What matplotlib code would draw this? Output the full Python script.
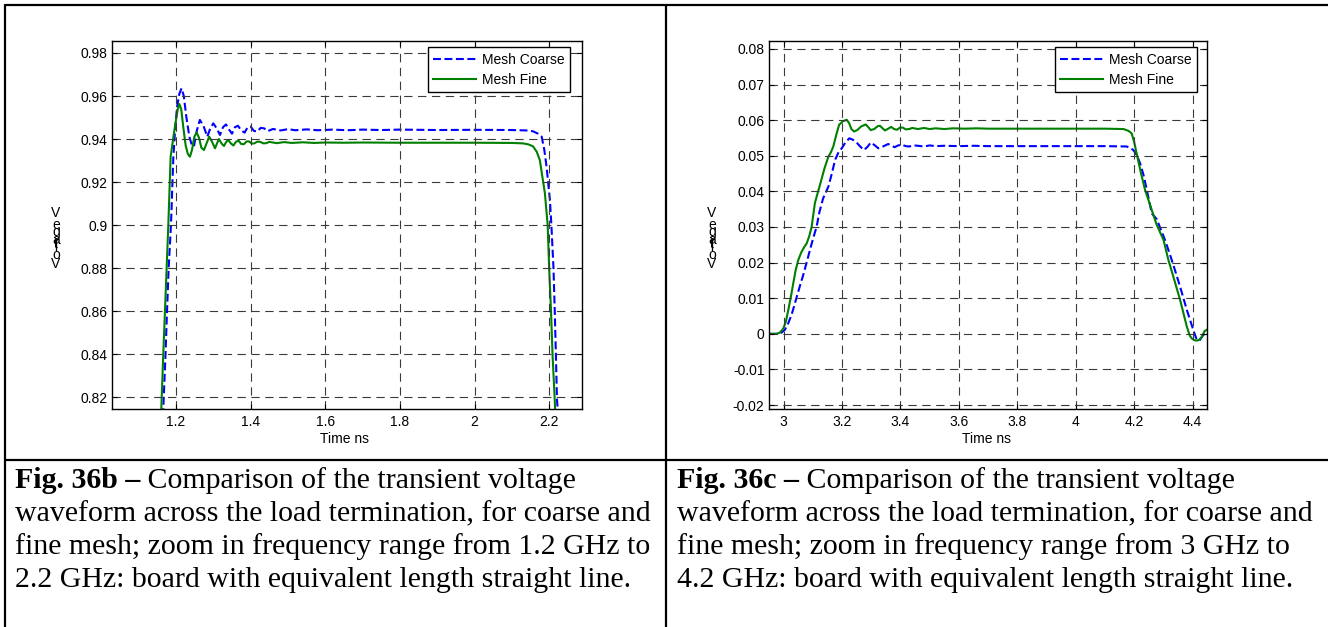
import matplotlib
matplotlib.use("Agg")
import matplotlib.pyplot as plt
from matplotlib.lines import Line2D

# ---------------- data ----------------
# Fig. 36b : 1.2 GHz .. 2.2 GHz window
b_coarse_t = [1.160, 1.166, 1.172, 1.176, 1.1804, 1.1866, 1.193, 1.198, 1.203, 1.209, 1.215,
              1.221, 1.228, 1.236, 1.242, 1.248, 1.256, 1.264, 1.274, 1.284, 1.292, 1.300,
              1.309, 1.318, 1.326, 1.334, 1.342, 1.350, 1.358, 1.366, 1.375, 1.384, 1.392,
              1.400, 1.409, 1.418, 1.427, 1.436, 1.446, 1.460, 1.480, 1.500, 1.520, 1.550,
              1.580, 1.620, 1.660, 1.700, 1.750, 1.800, 1.900, 2.000, 2.100, 2.140, 2.157,
              2.170, 2.180, 2.187, 2.193, 2.202, 2.206, 2.2116, 2.215, 2.218, 2.221, 2.223, 2.226]
b_coarse_v = [0.790, 0.8146, 0.840, 0.860, 0.880, 0.900, 0.9317, 0.945, 0.955, 0.961, 0.9636,
              0.960, 0.950, 0.941, 0.9375, 0.9365, 0.944, 0.9489, 0.946, 0.9411, 0.945, 0.9473,
              0.945, 0.9419, 0.9455, 0.9468, 0.9445, 0.9425, 0.9455, 0.9462, 0.9440, 0.9430, 0.9455,
              0.9458, 0.9438, 0.9435, 0.9452, 0.9450, 0.9437, 0.9447, 0.9440, 0.9446, 0.9441, 0.9445,
              0.9441, 0.9444, 0.9441, 0.9444, 0.9442, 0.9444, 0.9442, 0.9443, 0.9442, 0.9440, 0.9436,
              0.9425, 0.9411, 0.935, 0.9272, 0.9117, 0.900, 0.880, 0.860, 0.840, 0.8188, 0.8146, 0.790]

b_fine_t = [1.155, 1.1607, 1.166, 1.1705, 1.175, 1.1795, 1.1857, 1.1946, 1.201, 1.205, 1.209,
            1.214, 1.220, 1.226, 1.232, 1.2375, 1.243, 1.249, 1.2554, 1.262, 1.268, 1.275,
            1.282, 1.289, 1.296, 1.3045, 1.310, 1.315, 1.322, 1.3286, 1.334, 1.340, 1.347,
            1.354, 1.361, 1.368, 1.375, 1.382, 1.389, 1.396, 1.403, 1.410, 1.418, 1.426,
            1.434, 1.442, 1.450, 1.470, 1.490, 1.510, 1.540, 1.570, 1.600, 1.650, 1.700,
            1.800, 1.900, 2.000, 2.100, 2.130, 2.145, 2.157, 2.167, 2.175, 2.1886, 2.196,
            2.200, 2.205, 2.209, 2.215, 2.216, 2.219]
b_fine_v = [0.790, 0.8146, 0.840, 0.860, 0.880, 0.900, 0.9317, 0.9427, 0.950, 0.954, 0.9563,
            0.954, 0.945, 0.937, 0.933, 0.9318, 0.935, 0.9410, 0.9431, 0.9405, 0.936, 0.9349,
            0.938, 0.9411, 0.939, 0.9357, 0.938, 0.9400, 0.938, 0.9368, 0.9385, 0.9396, 0.938,
            0.9370, 0.9388, 0.9392, 0.9377, 0.9376, 0.9389, 0.9389, 0.9379, 0.9380, 0.9388, 0.9387,
            0.9380, 0.9381, 0.9387, 0.9381, 0.9386, 0.9382, 0.9385, 0.9382, 0.9384, 0.9383, 0.9384,
            0.9383, 0.9383, 0.9383, 0.9382, 0.9380, 0.9375, 0.9366, 0.9340, 0.9302, 0.9148, 0.900,
            0.880, 0.860, 0.840, 0.8188, 0.8146, 0.790]

b_xticks = [1.2, 1.4, 1.6, 1.8, 2.0, 2.2]
b_xticklabels = ["1.2", "1.4", "1.6", "1.8", "2", "2.2"]
b_yticks = [0.82, 0.84, 0.86, 0.88, 0.90, 0.92, 0.94, 0.96, 0.98]
b_yticklabels = ["0.82", "0.84", "0.86", "0.88", "0.9", "0.92", "0.94", "0.96", "0.98"]

# Fig. 36c : 3 GHz .. 4.2 GHz window
c_coarse_t = [2.951, 2.980, 2.992, 3.004, 3.015, 3.027, 3.036, 3.045, 3.056, 3.067, 3.078,
              3.090, 3.101, 3.113, 3.122, 3.135, 3.153, 3.165, 3.176, 3.188, 3.199, 3.212,
              3.225, 3.237, 3.250, 3.262, 3.275, 3.287, 3.298, 3.311, 3.324, 3.340, 3.358,
              3.370, 3.380, 3.392, 3.405, 3.418, 3.430, 3.445, 3.460, 3.480, 3.500, 3.520,
              3.550, 3.600, 3.650, 3.700, 3.800, 3.900, 4.000, 4.100, 4.174, 4.186, 4.197,
              4.209, 4.220, 4.232, 4.243, 4.260, 4.277, 4.290, 4.305, 4.320, 4.334, 4.357,
              4.380, 4.402, 4.414, 4.425, 4.436, 4.450]
c_coarse_v = [0.0, 0.0, 0.0003, 0.0011, 0.0028, 0.0053, 0.0078, 0.0104, 0.0135, 0.0165, 0.0198,
              0.0235, 0.0268, 0.0301, 0.0340, 0.0380, 0.0413, 0.0450, 0.0488, 0.0510, 0.0521, 0.0538,
              0.0549, 0.0545, 0.0537, 0.0526, 0.0516, 0.0525, 0.0537, 0.0530, 0.0521, 0.0526, 0.0533,
              0.0528, 0.0524, 0.0529, 0.0531, 0.0527, 0.0526, 0.0529, 0.0528, 0.0526, 0.0529, 0.0527,
              0.0528, 0.0527, 0.0528, 0.0527, 0.0527, 0.0527, 0.0527, 0.0527, 0.0526, 0.0522, 0.0516,
              0.0501, 0.0479, 0.0445, 0.0404, 0.0338, 0.0322, 0.0295, 0.0264, 0.0228, 0.0193, 0.0132,
              0.0067, 0.0011, -0.0017, -0.0017, -0.0003, 0.0003]

c_fine_t = [2.951, 2.976, 2.988, 2.999, 3.008, 3.016, 3.025, 3.033, 3.041, 3.050, 3.060,
            3.070, 3.079, 3.088, 3.096, 3.107, 3.113, 3.125, 3.140, 3.153, 3.162, 3.170,
            3.180, 3.190, 3.203, 3.216, 3.224, 3.232, 3.241, 3.252, 3.265, 3.281, 3.290,
            3.298, 3.310, 3.322, 3.330, 3.340, 3.347, 3.358, 3.368, 3.378, 3.388, 3.398,
            3.408, 3.418, 3.430, 3.440, 3.460, 3.480, 3.500, 3.520, 3.550, 3.580, 3.620,
            3.660, 3.700, 3.800, 3.900, 4.000, 4.100, 4.163, 4.180, 4.191, 4.200, 4.208,
            4.222, 4.237, 4.255, 4.271, 4.277, 4.300, 4.317, 4.334, 4.357, 4.380, 4.390,
            4.397, 4.406, 4.416, 4.423, 4.430, 4.441, 4.450]
c_fine_v = [0.0, 0.0, 0.0004, 0.0015, 0.0035, 0.0067, 0.0105, 0.0142, 0.0178, 0.0207, 0.0228,
            0.0243, 0.0254, 0.0275, 0.0301, 0.0367, 0.0385, 0.0420, 0.0465, 0.0497, 0.0510, 0.0526,
            0.0558, 0.0587, 0.0597, 0.0601, 0.0592, 0.0575, 0.0568, 0.0572, 0.0582, 0.0588, 0.0580,
            0.0572, 0.0575, 0.0583, 0.0584, 0.0576, 0.0571, 0.0576, 0.0581, 0.0575, 0.0573, 0.0579,
            0.0579, 0.0574, 0.0575, 0.0578, 0.0575, 0.0578, 0.0575, 0.0577, 0.0575, 0.0577, 0.0576,
            0.0577, 0.0576, 0.0576, 0.0576, 0.0576, 0.0576, 0.0575, 0.0570, 0.0563, 0.0538, 0.0507,
            0.0455, 0.0404, 0.0360, 0.0320, 0.0306, 0.0264, 0.0207, 0.0160, 0.0095, 0.0020, -0.0005,
            -0.0013, -0.0018, -0.0019, -0.0016, -0.0010, 0.0008, 0.0012]

c_xticks = [3.0, 3.2, 3.4, 3.6, 3.8, 4.0, 4.2, 4.4]
c_xticklabels = ["3", "3.2", "3.4", "3.6", "3.8", "4", "4.2", "4.4"]
c_yticks = [-0.02, -0.01, 0.0, 0.01, 0.02, 0.03, 0.04, 0.05, 0.06, 0.07, 0.08]
c_yticklabels = ["-0.02", "-0.01", "0", "0.01", "0.02", "0.03", "0.04", "0.05", "0.06", "0.07", "0.08"]

series_labels = ["Mesh Coarse", "Mesh Fine"]
x_label = "Time ns"
y_label = "Voltage V"

caption_b = [("Fig. 36b \u2013", " Comparison of the transient voltage"),
             ("", "waveform across the load termination, for coarse and"),
             ("", "fine mesh; zoom in frequency range from 1.2 GHz to"),
             ("", "2.2 GHz: board with equivalent length straight line.")]
caption_c = [("Fig. 36c \u2013", " Comparison of the transient voltage"),
             ("", "waveform across the load termination, for coarse and"),
             ("", "fine mesh; zoom in frequency range from 3 GHz to"),
             ("", "4.2 GHz: board with equivalent length straight line.")]

# ---------------- figure ----------------
W, H = 1328, 627
fig = plt.figure(figsize=(W / 100, H / 100), dpi=100)
plt.rcParams["font.family"] = ["Liberation Sans", "DejaVu Sans"]

BLUE = "#0000ff"
GREEN = "#008000"
TICK_FS = 10


def px_rect(x0, y0, x1, y1):
    return [x0 / W, 1 - y1 / H, (x1 - x0) / W, (y1 - y0) / H]


def make_panel(rect, ct, cv, ft, fv, xlim, ylim, xt, xtl, yt, ytl, leg_anchor,
               xlab_pos, ylab_x):
    ax = fig.add_axes(px_rect(*rect))
    ax.plot(ct, cv, color=BLUE, lw=1.5, linestyle=(0, (3.8, 1.7)), label=series_labels[0])
    ax.plot(ft, fv, color=GREEN, lw=1.5, label=series_labels[1])
    ax.set_xlim(*xlim)
    ax.set_ylim(*ylim)
    ax.set_xticks(xt)
    ax.set_xticklabels(xtl)
    ax.set_yticks(yt)
    ax.set_yticklabels(ytl)
    ax.tick_params(direction="in", length=3.5, width=0.8, top=True, right=True,
                   labelsize=TICK_FS, colors="black", pad=3.5)
    ax.tick_params(axis="x", pad=4.5)
    for s in ax.spines.values():
        s.set_linewidth(1.0)
        s.set_color("black")
    ax.grid(True, color="#3a3a3a", lw=0.8, linestyle=(0, (7.5, 5)))
    ax.set_axisbelow(False)
    leg = ax.legend(loc="upper right", bbox_to_anchor=leg_anchor, borderaxespad=0,
                    fancybox=False, edgecolor="black", framealpha=1, fontsize=TICK_FS,
                    handlelength=3.1, handletextpad=0.4, labelspacing=0.45,
                    borderpad=0.4)
    leg.get_frame().set_linewidth(1.0)
    # axis titles
    fig.text(xlab_pos[0] / W, 1 - xlab_pos[1] / H, x_label, ha="center", va="center",
             fontsize=TICK_FS)
    # y label: glyphs stacked upright along a vertical baseline
    adv = {"V": 0.667, "o": 0.556, "l": 0.222, "t": 0.278, "a": 0.556, "g": 0.556,
           "e": 0.556, " ": 0.278}
    em = TICK_FS * 100 / 72
    y0 = 268.0
    cum = 0.0
    for ch in y_label:
        if ch != " ":
            fig.text(ylab_x / W, 1 - (y0 - cum * em) / H, ch, ha="center", va="baseline",
                     fontsize=TICK_FS)
        cum += adv[ch]
    return ax


make_panel((112, 40.7, 582, 409), b_coarse_t, b_coarse_v, b_fine_t, b_fine_v,
           (1.0286, 2.288), (0.8146, 0.9857), b_xticks, b_xticklabels, b_yticks,
           b_yticklabels, (0.9745, 0.983), (345, 439), 56)
make_panel((769.3, 40.7, 1207.3, 409), c_coarse_t, c_coarse_v, c_fine_t, c_fine_v,
           (2.951, 4.45), (-0.0211, 0.0823), c_xticks, c_xticklabels, c_yticks,
           c_yticklabels, (0.9765, 0.983), (987, 439), 712)

# table rules
def rule(x0, y0, x1, y1):
    fig.add_artist(Line2D([x0 / W, x1 / W], [1 - y0 / H, 1 - y1 / H], color="black",
                          lw=1.6, solid_capstyle="butt"))

rule(5, 5, W, 5)
rule(5, 4, 5, H)
rule(666, 5, 666, H)
rule(5, 460, W, 460)

# captions
CAP_FS = 21.5
renderer = fig.canvas.get_renderer()


def caption(lines, x_px):
    base = 488
    step = 33
    for i, (bold, rest) in enumerate(lines):
        y = 1 - (base + i * step) / H
        x = x_px / W
        if bold:
            t = fig.text(x, y, bold, ha="left", va="baseline", fontsize=CAP_FS,
                         family="Liberation Serif", weight="bold")
            bb = t.get_window_extent(renderer)
            x = bb.x1 / W
        fig.text(x, y, rest, ha="left", va="baseline", fontsize=CAP_FS,
                 family="Liberation Serif")


caption(caption_b, 15)
caption(caption_c, 677)

fig.savefig("out.png", dpi=100)
